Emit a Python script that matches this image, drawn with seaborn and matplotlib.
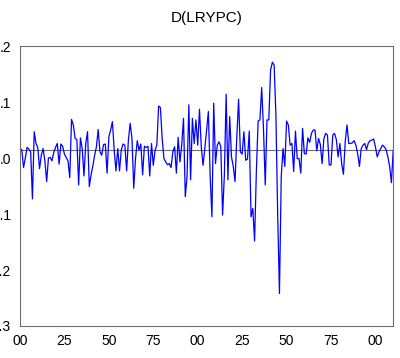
import numpy as np
import pandas as pd
import matplotlib
matplotlib.use("Agg")
import matplotlib.pyplot as plt
import seaborn as sns

title = "D(LRYPC)"
start_year = 1800

values = [
    # 1800-1842
    0.017, 0.015, -0.017, 0.000, 0.019, 0.016, 0.011, -0.073, 0.047, 0.026,
    0.019, -0.019, 0.005, 0.017, -0.005, -0.042, 0.000, 0.001, -0.005, 0.010,
    0.019, 0.026, -0.011, 0.025, 0.021, 0.007, 0.001, -0.005, -0.035, 0.069,
    0.059, 0.035, 0.033, -0.048, 0.036, 0.017, -0.032, 0.026, 0.047, -0.051,
    -0.030, -0.014, 0.005,
    # 1843-1883
    0.020,
    0.051, 0.011, 0.005, 0.024, 0.025, -0.027, 0.038, 0.050, 0.065, 0.014,
    -0.023, 0.017, -0.023, 0.015, 0.025, 0.023, -0.023, 0.032, 0.062, 0.035,
    -0.054, -0.001, 0.031, 0.014, 0.025, -0.030, 0.021, 0.019, 0.021, -0.032,
    0.026, -0.013, 0.014, 0.023, 0.093, 0.090, 0.035, -0.001, -0.007, -0.012,
    # 1884-1927
    -0.010, -0.017, 0.011, 0.020, -0.027, 0.037, -0.007, 0.023, 0.071, -0.069,
    -0.033, 0.095, -0.039, 0.071, 0.026, 0.068, 0.023, 0.087, 0.020, -0.013,
    0.017, 0.050, 0.083, -0.033, -0.105, 0.098, -0.010, 0.023, 0.029, 0.020,
    -0.102, -0.030, 0.114, -0.039, 0.074, 0.002, -0.015, -0.042, 0.038, 0.105,
    0.011, 0.007, 0.047, -0.004,
    # 1928-1969
    -0.002, 0.048, -0.105, -0.090, -0.148, -0.024, 0.066, 0.068, 0.126, 0.053,
    -0.048, 0.068, 0.068, 0.157, 0.171, 0.166, 0.077, -0.102, -0.242, -0.033,
    0.017, -0.015, 0.066, 0.059, 0.023, 0.026, -0.024, 0.048, -0.001, -0.001,
    -0.027, 0.053, 0.008, 0.007, 0.036, 0.028, 0.044, 0.050, 0.050, 0.013,
    0.035, 0.024,
    # 1970-2010
    -0.010, 0.035, 0.044, 0.041, -0.0125, -0.0125, 0.041, 0.044, 0.033, 0.002,
    0.026, -0.010, -0.029, 0.029, 0.059, 0.026, 0.026, 0.027, 0.031, 0.023,
    0.008, -0.015, 0.017, 0.023, 0.026, 0.015, 0.027, 0.031, 0.032, 0.034,
    0.020, 0.002, 0.011, 0.017, 0.023, 0.020, 0.015, 0.002, -0.015, -0.044,
    0.014,
]
years = list(range(start_year, start_year + len(values)))

ytick_values = [0.2, 0.1, 0.0, -0.1, -0.2, -0.3]
ytick_labels = [".2", ".1", ".0", "-.1", "-.2", "-.3"]
xtick_values = [1800, 1825, 1850, 1875, 1900, 1925, 1950, 1975, 2000]
xtick_labels = ["00", "25", "50", "75", "00", "25", "50", "75", "00"]

df = pd.DataFrame({"year": years, "value": values})

sns.set_theme(style="white")
plt.rcParams["font.family"] = ["Liberation Sans", "DejaVu Sans"]

fig = plt.figure(figsize=(4.0, 3.58), dpi=100)
ax = fig.add_axes([0.05, 0.0894, 0.933, 0.782])

sns.lineplot(data=df, x="year", y="value", ax=ax, color="#0000FF",
             linewidth=0.9, estimator=None)
ax.axhline(0.0143, color="#6e6e6e", linewidth=0.8, zorder=1)

ax.set_xlim(1800, 2010)
ax.set_ylim(-0.3, 0.2)
ax.set_xticks(xtick_values)
ax.set_xticklabels(xtick_labels)
ax.set_xticks(list(range(1800, 2011, 5)), minor=True)
ax.set_yticks(ytick_values)
ax.set_yticklabels(ytick_labels)
ax.set_xlabel("")
ax.set_ylabel("")

ax.tick_params(axis="both", which="both", direction="out", length=3.5,
               width=0.7, color="#777777", labelsize=10, labelcolor="black")
ax.tick_params(axis="y", pad=3)
ax.tick_params(axis="x", pad=2)
for sp in ax.spines.values():
    sp.set_color("#6e6e6e")
    sp.set_linewidth(0.8)
    sp.set_visible(True)

ax.set_title(title, fontsize=11, pad=17, color="black")

fig.savefig("out.png", dpi=100)
